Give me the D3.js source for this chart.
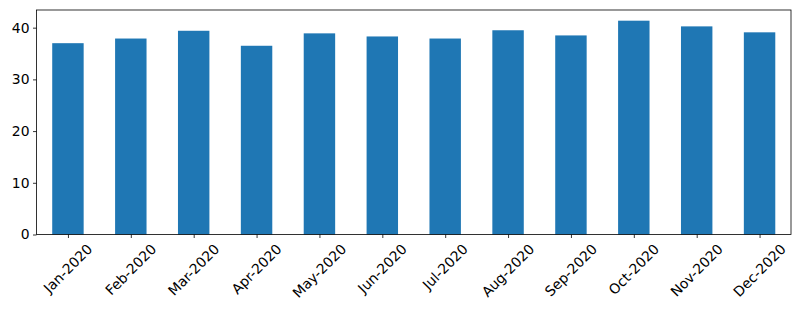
<!DOCTYPE html>
<html>
<head>
<meta charset="utf-8">
<script src="https://cdn.jsdelivr.net/npm/d3@7"></script>
<style>
  body { margin: 0; background: #fff; }
  text { font-family: "DejaVu Sans", sans-serif; }
</style>
</head>
<body>
<svg id="chart"></svg>
<script>
const months = ["Jan-2020", "Feb-2020", "Mar-2020", "Apr-2020", "May-2020", "Jun-2020",
                "Jul-2020", "Aug-2020", "Sep-2020", "Oct-2020", "Nov-2020", "Dec-2020"];
const values = [37.0, 37.9, 39.4, 36.5, 38.9, 38.3, 37.9, 39.5, 38.5, 41.35, 40.25, 39.1];
const yTicks = [0, 10, 20, 30, 40];

const width = 800, height = 310;
const margin = {left: 36.5, right: 9, top: 10, bottom: 75.5};
const fontPx = 13.9;

const svg = d3.select("#chart").attr("width", width).attr("height", height);

// pandas-style positions: bar i at x=i, limits -0.5..n-0.5
let x = d3.scaleLinear()
          .domain([-0.5, months.length - 0.5])
          .range([margin.left, width - margin.right]);
let y = d3.scaleLinear()
          .domain([0, d3.max(values) * 1.05])
          .range([height - margin.bottom, margin.top]);

svg.selectAll(".bar")
   .data(values).enter()
   .append("rect")
   .attr("class", "bar")
   .attr("x", (d, i) => x(i - 0.25))
   .attr("width", (d, i) => x(i + 0.25) - x(i - 0.25))
   .attr("y", d => y(d))
   .attr("height", d => y(0) - y(d))
   .attr("fill", "#1f77b4");

// y axis
let yAxis = d3.axisLeft(y).tickValues(yTicks).tickSize(3.5).tickPadding(3.5).tickFormat(d3.format("d"));
let gy = svg.append("g")
            .attr("transform", `translate(${margin.left},0)`)
            .call(yAxis);
gy.select(".domain").remove();
gy.selectAll("line").attr("stroke", "#000").attr("stroke-width", 0.8);
gy.selectAll("text").attr("font-size", fontPx).attr("fill", "#000")
  .style("font-family", "'DejaVu Sans', sans-serif");

// x ticks
let xAxis = d3.axisBottom(x).tickValues(d3.range(months.length)).tickSize(3.5).tickFormat("");
let gx = svg.append("g")
            .attr("transform", `translate(0,${y(0)})`)
            .call(xAxis);
gx.select(".domain").remove();
gx.selectAll("line").attr("stroke", "#000").attr("stroke-width", 0.8);

// rotated labels, bbox centred under the tick like matplotlib
const labelTop = y(0) + 3.5 + 3.5;
svg.selectAll(".month")
   .data(months).enter()
   .append("text")
   .attr("class", "month")
   .attr("font-size", fontPx)
   .attr("text-anchor", "middle")
   .attr("dy", "0.35em")
   .text(d => d)
   .attr("transform", function(d, i) {
     let w = this.getComputedTextLength();
     let half = (w + fontPx * 1.05) * Math.SQRT1_2 / 2;
     return `translate(${x(i)},${labelTop + half}) rotate(-45)`;
   });

// frame
svg.append("rect")
   .attr("x", margin.left)
   .attr("y", margin.top)
   .attr("width", width - margin.right - margin.left)
   .attr("height", height - margin.bottom - margin.top)
   .attr("fill", "none")
   .attr("stroke", "#000")
   .attr("stroke-width", 0.8);
</script>
</body>
</html>
